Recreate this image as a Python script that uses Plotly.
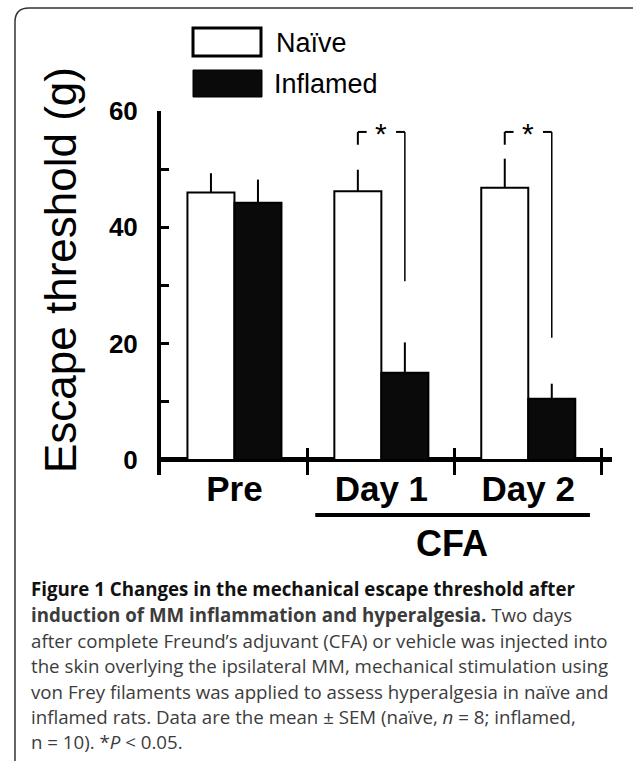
import plotly.graph_objects as go

# ---------------- data ----------------
categories = ["Pre", "Day 1", "Day 2"]
series_names = ["Naïve", "Inflamed"]
naive_mean = [46.0, 46.2, 46.8]
naive_sem = [3.3, 3.7, 5.0]
inflamed_mean = [44.2, 15.0, 10.5]
inflamed_sem = [4.0, 5.2, 2.6]
y_tickvals = [0, 10, 20, 30, 40, 50, 60]
y_ticktext = ["0", "", "20", "", "40", "", "60"]
y_title = "Escape threshold (g)"
sig_categories = ["Day 1", "Day 2"]
sig_label = "*"
group_label = "CFA"
caption_lines = [
    "<b>Figure 1 Changes in the mechanical escape threshold after</b>",
    "<b>induction of MM inflammation and hyperalgesia.</b> Two days",
    "after complete Freund’s adjuvant (CFA) or vehicle was injected into",
    "the skin overlying the ipsilateral MM, mechanical stimulation using",
    "von Frey filaments was applied to assess hyperalgesia in naïve and",
    "inflamed rats. Data are the mean ± SEM (naïve, <i>n</i> = 8; inflamed,",
    "n = 10). *<i>P</i> < 0.05.",
]

# ---------------- layout constants ----------------
FW, FH = 633, 761
L, R, T, B = 161, 612, 111, 475
W, H = R - L, B - T
BARGAP = 0.36
XRANGE = [-0.5, 2.57]
YRANGE = [-2.6, 60]
bracket_top = 56.4
bracket_left_low = 54.2
bracket_right_low = [30.7, 21.0]
FONT = "Liberation Sans, Arial, sans-serif"
CAP_FONT = "Open Sans, Noto Sans, sans-serif"


def pxx(x):
    return (x - L) / W


def pxy(y):
    return (B - y) / H


fig = go.Figure()
fig.add_trace(go.Bar(
    x=categories, y=naive_mean, name=series_names[0],
    marker=dict(color="white", line=dict(color="black", width=2)),
    error_y=dict(type="data", array=naive_sem, arrayminus=[0] * len(naive_sem),
                 symmetric=False, width=0, thickness=2, color="black"),
))
fig.add_trace(go.Bar(
    x=categories, y=inflamed_mean, name=series_names[1],
    marker=dict(color="#0a0a0a", line=dict(color="black", width=2)),
    error_y=dict(type="data", array=inflamed_sem, arrayminus=[0] * len(inflamed_sem),
                 symmetric=False, width=0, thickness=2, color="black"),
))

shapes = []
annotations = []

# significance brackets
half = (1 - BARGAP) / 4
for k, cat in enumerate(sig_categories):
    i = categories.index(cat)
    xl, xr = i - half, i + half
    gap = 0.1
    ln = dict(color="black", width=2)
    shapes.append(dict(type="line", xref="x", yref="y", x0=xl, x1=xl,
                       y0=bracket_left_low, y1=bracket_top, line=ln))
    shapes.append(dict(type="line", xref="x", yref="y", x0=xl, x1=i - gap,
                       y0=bracket_top, y1=bracket_top, line=ln))
    shapes.append(dict(type="line", xref="x", yref="y", x0=i + gap, x1=xr,
                       y0=bracket_top, y1=bracket_top, line=ln))
    shapes.append(dict(type="line", xref="x", yref="y", x0=xr, x1=xr,
                       y0=bracket_right_low[k], y1=bracket_top, line=dict(color="black", width=1.5)))
    annotations.append(dict(x=i, y=bracket_top, xref="x", yref="y", text=sig_label,
                            showarrow=False, yanchor="middle", yshift=-2,
                            font=dict(family=FONT, size=30, color="black")))

# CFA underline and label
shapes.append(dict(type="line", xref="x", yref="paper", x0=0.55, x1=2.42,
                   y0=pxy(515), y1=pxy(515), line=dict(color="black", width=4)))
annotations.append(dict(x=1.48, y=pxy(543), xref="x", yref="paper", text=group_label,
                        showarrow=False, xanchor="center", yanchor="middle",
                        font=dict(family=FONT, size=36, color="black", weight="bold")))

# y title
annotations.append(dict(x=pxx(60), y=pxy(270), xref="paper", yref="paper", text=y_title,
                        textangle=-90, showarrow=False, xanchor="center", yanchor="middle",
                        font=dict(family=FONT, size=44, color="black")))

# legend (manual)
shapes.append(dict(type="rect", xref="paper", yref="paper", x0=pxx(193), x1=pxx(261),
                   y0=pxy(56), y1=pxy(28), fillcolor="white",
                   line=dict(color="black", width=3)))
shapes.append(dict(type="rect", xref="paper", yref="paper", x0=pxx(193), x1=pxx(262),
                   y0=pxy(97), y1=pxy(70), fillcolor="#0a0a0a",
                   line=dict(color="black", width=1)))
annotations.append(dict(x=pxx(274), y=pxy(43), xref="paper", yref="paper", text=series_names[0],
                        showarrow=False, xanchor="left", yanchor="middle",
                        font=dict(family=FONT, size=27, color="black")))
annotations.append(dict(x=pxx(272), y=pxy(84), xref="paper", yref="paper", text=series_names[1],
                        showarrow=False, xanchor="left", yanchor="middle",
                        font=dict(family=FONT, size=27, color="black")))

# caption
cap_y = [588, 614, 640, 665, 691, 716, 741]
for k, line in enumerate(caption_lines):
    annotations.append(dict(x=pxx(29), y=pxy(cap_y[k]), xref="paper", yref="paper", text=line,
                            showarrow=False, xanchor="left", yanchor="middle", align="left",
                            font=dict(family=CAP_FONT, size=18.7, color="#3c3c3c" if k > 0 else "#111")))

# rounded frame
fx0, fx1, fy0, fy1, r = 15, 648, 8, 775, 14
path = (f"M {pxx(fx0)},{pxy(fy1)} L {pxx(fx0)},{pxy(fy0 + r)} "
        f"Q {pxx(fx0)},{pxy(fy0)} {pxx(fx0 + r)},{pxy(fy0)} "
        f"L {pxx(fx1 - r)},{pxy(fy0)} Q {pxx(fx1)},{pxy(fy0)} {pxx(fx1)},{pxy(fy0 + r)} "
        f"L {pxx(fx1)},{pxy(fy1)}")
shapes.append(dict(type="path", xref="paper", yref="paper", path=path,
                   line=dict(color="#333", width=1.5)))

fig.update_layout(
    width=FW, height=FH,
    margin=dict(l=L, r=FW - R, t=T, b=FH - B, pad=0),
    paper_bgcolor="white", plot_bgcolor="white",
    barmode="group", bargap=BARGAP, bargroupgap=0,
    showlegend=False,
    shapes=shapes, annotations=annotations,
    xaxis=dict(type="category", range=XRANGE, showgrid=False, showline=False,
               zeroline=False, ticks="inside", tickson="boundaries", ticklen=27,
               tickwidth=3, tickcolor="black", ticklabelstandoff=-10,
               tickfont=dict(family=FONT, size=35, color="black", weight="bold")),
    yaxis=dict(range=YRANGE, showgrid=False, showline=True, linewidth=4, linecolor="black",
               zeroline=True, zerolinewidth=5, zerolinecolor="black",
               tickvals=y_tickvals, ticktext=y_ticktext, ticks="inside", ticklen=8,
               tickwidth=3, tickcolor="black", ticklabelstandoff=14,
               tickfont=dict(family=FONT, size=26, color="black", weight="bold")),
)

fig.write_html("out.html", config={"displayModeBar": False},
               post_script="document.body.style.margin='0';document.body.style.overflow='hidden';")
